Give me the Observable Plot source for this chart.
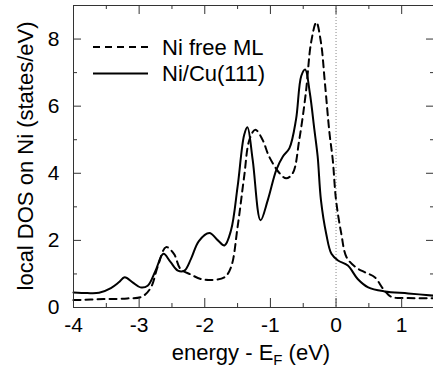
<!DOCTYPE html>
<html>
<head>
<meta charset="utf-8">
<script src="https://cdn.jsdelivr.net/npm/d3@7"></script>
<script src="https://cdn.jsdelivr.net/npm/@observablehq/plot@0.6"></script>
<style>
  html, body { margin: 0; padding: 0; background: white; }
  #chart { position: relative; width: 433px; height: 377px; overflow: hidden; }
</style>
</head>
<body>
<div id="chart"></div>
<script>
// Ni/Cu(111) local DOS (solid)
const cuEnergy = [-4.0, -3.79, -3.61, -3.43, -3.31, -3.22, -3.10, -2.98, -2.87, -2.75, -2.63, -2.52, -2.41, -2.31, -2.21, -2.09, -1.93, -1.80, -1.70, -1.60, -1.50, -1.40, -1.35, -1.27, -1.15, -1.04, -0.91, -0.81, -0.71, -0.61, -0.53, -0.47, -0.40, -0.33, -0.28, -0.23, -0.15, -0.07, 0.03, 0.18, 0.33, 0.49, 0.74, 1.10, 1.5];
const cuDos    = [0.45, 0.43, 0.44, 0.58, 0.75, 0.90, 0.75, 0.60, 0.65, 1.10, 1.60, 1.35, 1.10, 1.10, 1.45, 1.98, 2.22, 2.00, 1.85, 2.30, 3.60, 5.14, 5.37, 4.40, 2.60, 3.20, 4.10, 4.50, 4.75, 5.60, 6.90, 7.09, 6.40, 5.30, 4.50, 3.20, 2.20, 1.60, 1.40, 1.25, 0.85, 0.60, 0.48, 0.42, 0.35];
// Ni free ML local DOS (dashed)
const freeEnergy = [-4.0, -3.54, -3.18, -2.95, -2.82, -2.72, -2.59, -2.47, -2.37, -2.21, -2.06, -1.91, -1.70, -1.60, -1.50, -1.40, -1.32, -1.23, -1.12, -1.02, -0.86, -0.76, -0.66, -0.56, -0.46, -0.38, -0.30, -0.23, -0.17, -0.10, -0.05, 0.0, 0.08, 0.16, 0.30, 0.44, 0.59, 0.72, 0.84, 1.10, 1.5];
const freeDos    = [0.22, 0.25, 0.27, 0.33, 0.60, 1.20, 1.80, 1.60, 1.15, 0.98, 0.85, 0.82, 0.90, 1.20, 2.40, 3.90, 5.00, 5.30, 5.00, 4.50, 4.00, 3.85, 4.00, 5.00, 6.40, 7.90, 8.50, 7.90, 6.70, 5.20, 4.40, 3.20, 2.20, 1.50, 1.20, 1.05, 0.90, 0.55, 0.32, 0.28, 0.28];

const seriesNames = ["Ni free ML", "Ni/Cu(111)"];
const xLabelTicks = [-4, -3, -2, -1, 0, 1];
const xMinorTicks = [-3.5, -2.5, -1.5, -0.5, 0.5, 1.5];
const yLabelTicks = [0, 2, 4, 6, 8];
const yMinorTicks = [1, 3, 5, 7, 9];
const xDomain = [-4, 1.5];
const yDomain = [0, 9];

const cuData = cuEnergy.map((e, i) => ({e, v: cuDos[i]}));
const freeData = freeEnergy.map((e, i) => ({e, v: freeDos[i]}));

const W = 433, H = 377;
const mT = 5, mB = 70, mL = 73, mR = -1;
const plotH = H - mT - mB;
const plotW = W - mL - mR;
const FONT = "'Liberation Sans', Arial, Helvetica, sans-serif";
const axisColor = "#333";

const chart = Plot.plot({
  width: W, height: H,
  marginTop: mT, marginBottom: mB, marginLeft: mL, marginRight: mR,
  style: {fontFamily: FONT, fontSize: "21px", background: "white", color: "black", overflow: "hidden"},
  x: {domain: xDomain},
  y: {domain: yDomain},
  marks: [
    Plot.ruleX([0], {stroke: "#888", strokeWidth: 1, strokeDasharray: "1,2"}),
    Plot.line(freeData, {x: "e", y: "v", stroke: "black", strokeWidth: 2, strokeDasharray: "7,5", curve: "catmull-rom"}),
    Plot.line(cuData, {x: "e", y: "v", stroke: "black", strokeWidth: 2, curve: "catmull-rom"}),
    Plot.frame({stroke: axisColor}),
    // inward ticks, bottom
    Plot.tickX(xLabelTicks, {x: d => d, stroke: axisColor, insetTop: plotH - 9}),
    Plot.tickX(xMinorTicks, {x: d => d, stroke: axisColor, insetTop: plotH - 4}),
    // top
    Plot.tickX(xLabelTicks, {x: d => d, stroke: axisColor, insetBottom: plotH - 9}),
    Plot.tickX(xMinorTicks, {x: d => d, stroke: axisColor, insetBottom: plotH - 4}),
    // left
    Plot.tickY(yLabelTicks, {y: d => d, stroke: axisColor, insetRight: plotW - 8}),
    Plot.tickY(yMinorTicks, {y: d => d, stroke: axisColor, insetRight: plotW - 4}),
    // right
    Plot.tickY(yLabelTicks, {y: d => d, stroke: axisColor, insetLeft: plotW - 8}),
    Plot.tickY(yMinorTicks, {y: d => d, stroke: axisColor, insetLeft: plotW - 4}),
    Plot.axisX(xLabelTicks, {tickSize: 0, tickPadding: 10, tickFormat: d => String(d), label: null, fontSize: 21}),
    Plot.axisY(yLabelTicks, {tickSize: 0, tickPadding: 14, tickFormat: d => String(d), label: null, fontSize: 21})
  ]
});

document.getElementById("chart").appendChild(chart);

// axis titles and legend
const svg = d3.select(chart);
svg.append("text")
  .attr("transform", `translate(33,${mT + plotH / 2}) rotate(-90)`)
  .attr("text-anchor", "middle")
  .attr("font-family", FONT).attr("font-size", 22).attr("fill", "black")
  .text("local DOS on Ni (states/eV)");

const xt = svg.append("text")
  .attr("x", 251).attr("y", 360)
  .attr("text-anchor", "middle")
  .attr("font-family", FONT).attr("font-size", 22).attr("fill", "black");
xt.append("tspan").text("energy - E");
xt.append("tspan").attr("font-size", 15).attr("dy", 5).text("F");
xt.append("tspan").attr("dy", -5).text(" (eV)");

const legend = svg.append("g");
const legendRows = [
  {name: seriesNames[0], dash: "7,5", y: 47},
  {name: seriesNames[1], dash: null, y: 73.5}
];
for (const r of legendRows) {
  legend.append("line")
    .attr("x1", 93).attr("x2", 148).attr("y1", r.y).attr("y2", r.y)
    .attr("stroke", "black").attr("stroke-width", 2)
    .attr("stroke-dasharray", r.dash);
  legend.append("text")
    .attr("x", 162).attr("y", r.y + 7.5)
    .attr("text-anchor", "start")
    .attr("font-family", FONT).attr("font-size", 22).attr("fill", "black")
    .text(r.name);
}
</script>
</body>
</html>
